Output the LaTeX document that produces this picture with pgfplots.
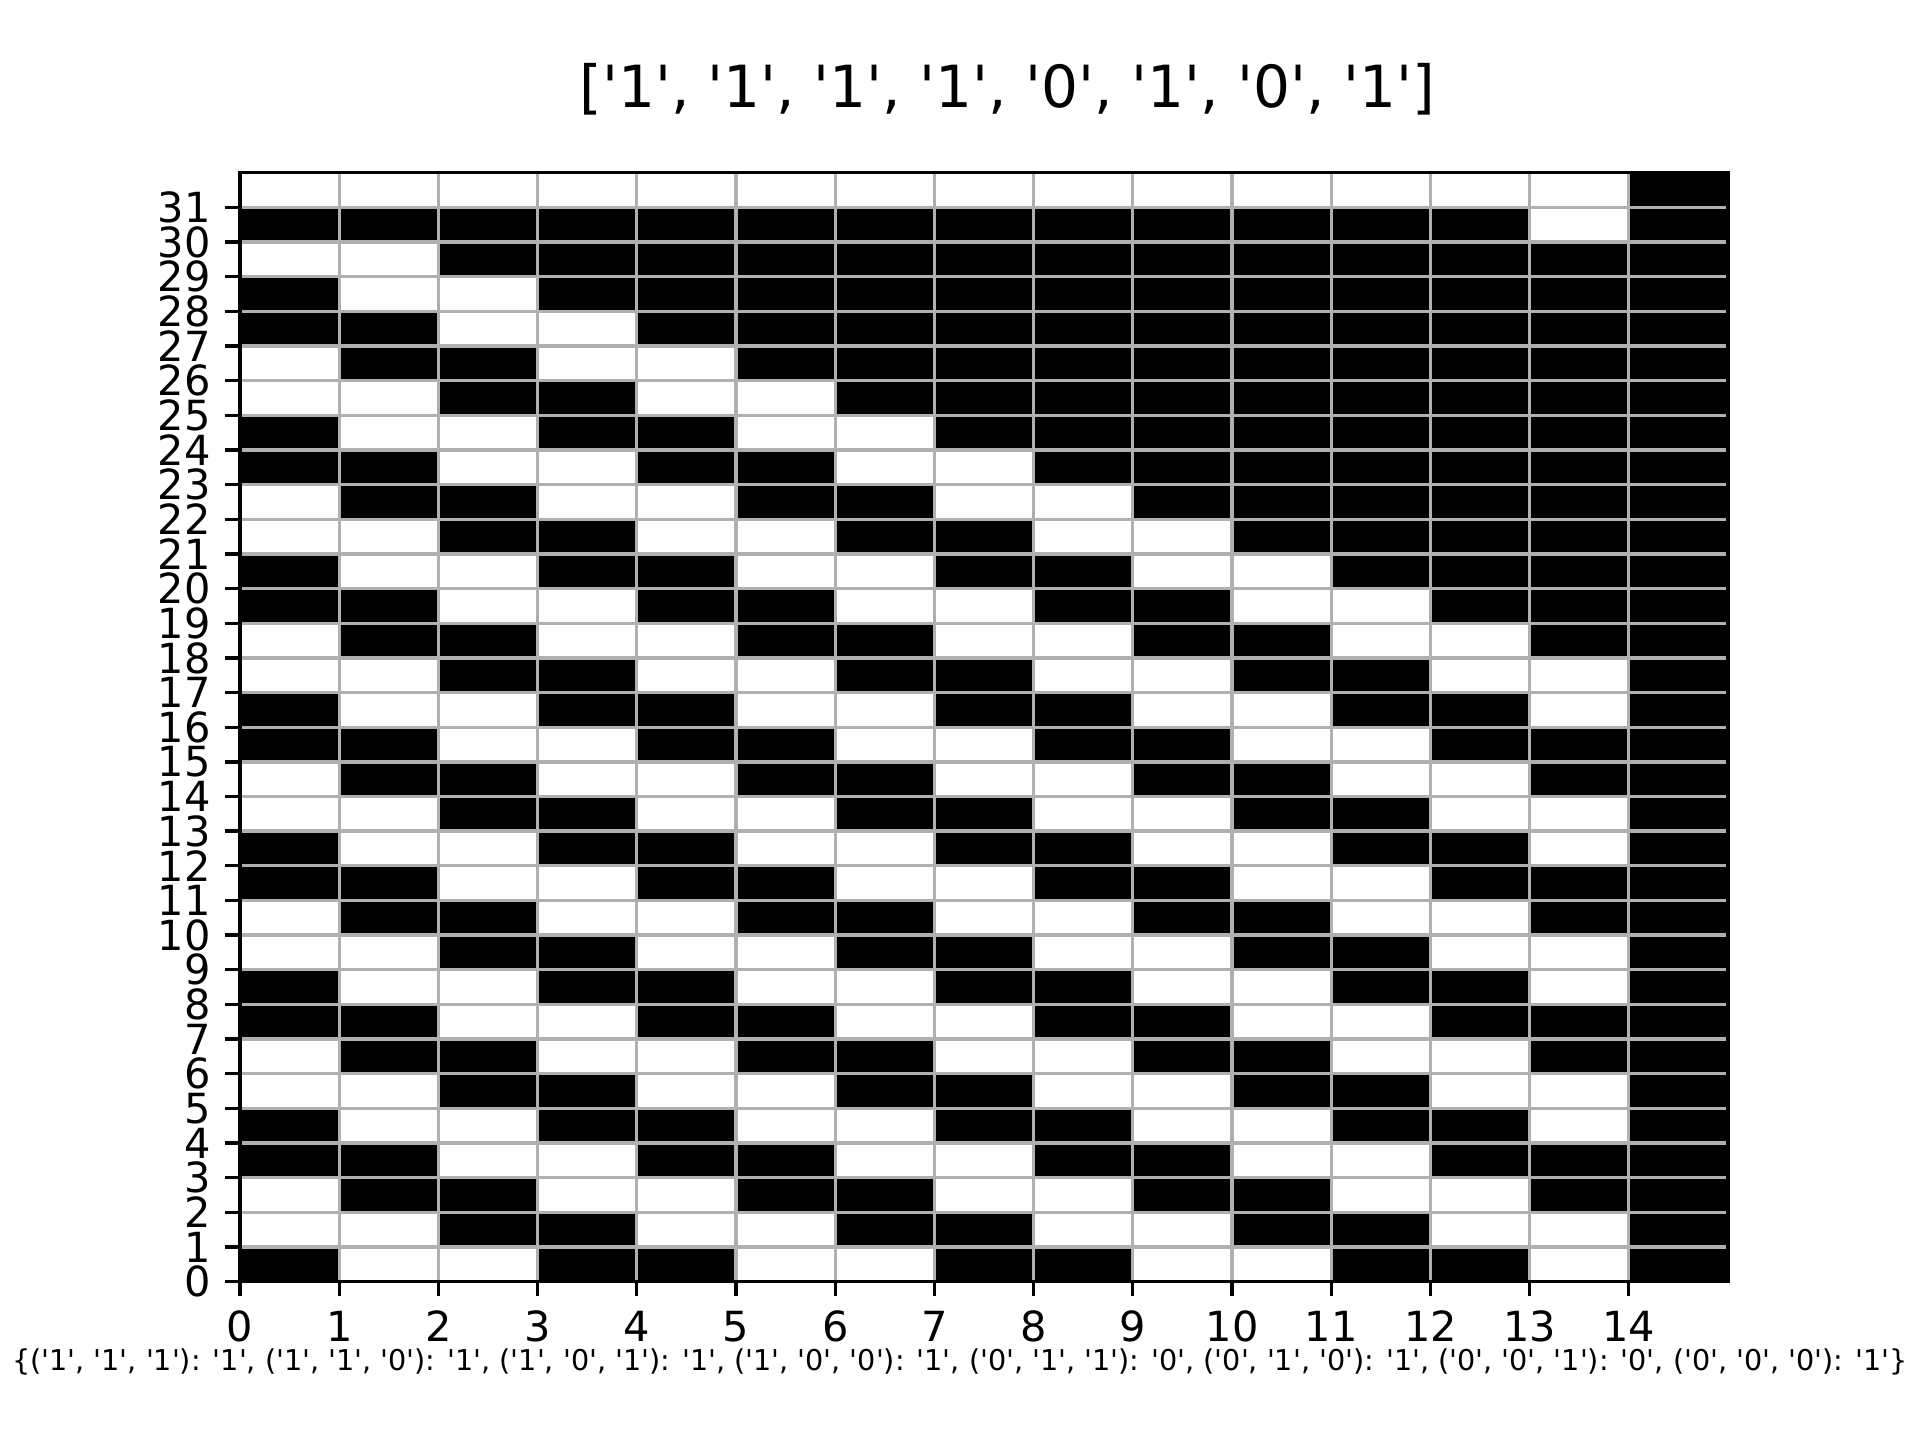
\documentclass[border=0pt]{standalone}
\usepackage{fontspec}
\setmainfont{DejaVu Sans}
\usepackage{pgfplots}
\pgfplotsset{compat=1.18}
\definecolor{gridgray}{HTML}{B0B0B0}
\newcommand\q{\textquotesingle}
\begin{document}
\begin{tikzpicture}
\path[use as bounding box] (0,0) rectangle (6.4in,4.8in);
\begin{axis}[
  at={(0.8in,0.528in)}, anchor=south west,
  scale only axis, width=4.96in, height=3.696in,
  xmin=0, xmax=15, ymin=0, ymax=32,
  xtick={0,...,14}, ytick={0,...,31},
  grid=major, major grid style={gridgray, line width=0.8pt},
  axis line style={line width=0.8pt},
  tick style={black, line width=0.8pt},
  tick align=outside, major tick length=3.5pt,
  xtick pos=bottom, ytick pos=left,
  axis on top,
  colormap={bw}{color=(white) color=(black)},
  point meta min=0, point meta max=1,
  /pgf/number format/assume math mode=true,
  ticklabel style={font=\fontsize{10}{12}\selectfont},
]
\addplot[matrix plot*, mesh/cols=15, point meta=explicit] coordinates {
(0.5,0.5)[1] (1.5,0.5)[0] (2.5,0.5)[0] (3.5,0.5)[1] (4.5,0.5)[1] (5.5,0.5)[0] (6.5,0.5)[0] (7.5,0.5)[1] (8.5,0.5)[1] (9.5,0.5)[0] (10.5,0.5)[0] (11.5,0.5)[1] (12.5,0.5)[1] (13.5,0.5)[0] (14.5,0.5)[1]
(0.5,1.5)[0] (1.5,1.5)[0] (2.5,1.5)[1] (3.5,1.5)[1] (4.5,1.5)[0] (5.5,1.5)[0] (6.5,1.5)[1] (7.5,1.5)[1] (8.5,1.5)[0] (9.5,1.5)[0] (10.5,1.5)[1] (11.5,1.5)[1] (12.5,1.5)[0] (13.5,1.5)[0] (14.5,1.5)[1]
(0.5,2.5)[0] (1.5,2.5)[1] (2.5,2.5)[1] (3.5,2.5)[0] (4.5,2.5)[0] (5.5,2.5)[1] (6.5,2.5)[1] (7.5,2.5)[0] (8.5,2.5)[0] (9.5,2.5)[1] (10.5,2.5)[1] (11.5,2.5)[0] (12.5,2.5)[0] (13.5,2.5)[1] (14.5,2.5)[1]
(0.5,3.5)[1] (1.5,3.5)[1] (2.5,3.5)[0] (3.5,3.5)[0] (4.5,3.5)[1] (5.5,3.5)[1] (6.5,3.5)[0] (7.5,3.5)[0] (8.5,3.5)[1] (9.5,3.5)[1] (10.5,3.5)[0] (11.5,3.5)[0] (12.5,3.5)[1] (13.5,3.5)[1] (14.5,3.5)[1]
(0.5,4.5)[1] (1.5,4.5)[0] (2.5,4.5)[0] (3.5,4.5)[1] (4.5,4.5)[1] (5.5,4.5)[0] (6.5,4.5)[0] (7.5,4.5)[1] (8.5,4.5)[1] (9.5,4.5)[0] (10.5,4.5)[0] (11.5,4.5)[1] (12.5,4.5)[1] (13.5,4.5)[0] (14.5,4.5)[1]
(0.5,5.5)[0] (1.5,5.5)[0] (2.5,5.5)[1] (3.5,5.5)[1] (4.5,5.5)[0] (5.5,5.5)[0] (6.5,5.5)[1] (7.5,5.5)[1] (8.5,5.5)[0] (9.5,5.5)[0] (10.5,5.5)[1] (11.5,5.5)[1] (12.5,5.5)[0] (13.5,5.5)[0] (14.5,5.5)[1]
(0.5,6.5)[0] (1.5,6.5)[1] (2.5,6.5)[1] (3.5,6.5)[0] (4.5,6.5)[0] (5.5,6.5)[1] (6.5,6.5)[1] (7.5,6.5)[0] (8.5,6.5)[0] (9.5,6.5)[1] (10.5,6.5)[1] (11.5,6.5)[0] (12.5,6.5)[0] (13.5,6.5)[1] (14.5,6.5)[1]
(0.5,7.5)[1] (1.5,7.5)[1] (2.5,7.5)[0] (3.5,7.5)[0] (4.5,7.5)[1] (5.5,7.5)[1] (6.5,7.5)[0] (7.5,7.5)[0] (8.5,7.5)[1] (9.5,7.5)[1] (10.5,7.5)[0] (11.5,7.5)[0] (12.5,7.5)[1] (13.5,7.5)[1] (14.5,7.5)[1]
(0.5,8.5)[1] (1.5,8.5)[0] (2.5,8.5)[0] (3.5,8.5)[1] (4.5,8.5)[1] (5.5,8.5)[0] (6.5,8.5)[0] (7.5,8.5)[1] (8.5,8.5)[1] (9.5,8.5)[0] (10.5,8.5)[0] (11.5,8.5)[1] (12.5,8.5)[1] (13.5,8.5)[0] (14.5,8.5)[1]
(0.5,9.5)[0] (1.5,9.5)[0] (2.5,9.5)[1] (3.5,9.5)[1] (4.5,9.5)[0] (5.5,9.5)[0] (6.5,9.5)[1] (7.5,9.5)[1] (8.5,9.5)[0] (9.5,9.5)[0] (10.5,9.5)[1] (11.5,9.5)[1] (12.5,9.5)[0] (13.5,9.5)[0] (14.5,9.5)[1]
(0.5,10.5)[0] (1.5,10.5)[1] (2.5,10.5)[1] (3.5,10.5)[0] (4.5,10.5)[0] (5.5,10.5)[1] (6.5,10.5)[1] (7.5,10.5)[0] (8.5,10.5)[0] (9.5,10.5)[1] (10.5,10.5)[1] (11.5,10.5)[0] (12.5,10.5)[0] (13.5,10.5)[1] (14.5,10.5)[1]
(0.5,11.5)[1] (1.5,11.5)[1] (2.5,11.5)[0] (3.5,11.5)[0] (4.5,11.5)[1] (5.5,11.5)[1] (6.5,11.5)[0] (7.5,11.5)[0] (8.5,11.5)[1] (9.5,11.5)[1] (10.5,11.5)[0] (11.5,11.5)[0] (12.5,11.5)[1] (13.5,11.5)[1] (14.5,11.5)[1]
(0.5,12.5)[1] (1.5,12.5)[0] (2.5,12.5)[0] (3.5,12.5)[1] (4.5,12.5)[1] (5.5,12.5)[0] (6.5,12.5)[0] (7.5,12.5)[1] (8.5,12.5)[1] (9.5,12.5)[0] (10.5,12.5)[0] (11.5,12.5)[1] (12.5,12.5)[1] (13.5,12.5)[0] (14.5,12.5)[1]
(0.5,13.5)[0] (1.5,13.5)[0] (2.5,13.5)[1] (3.5,13.5)[1] (4.5,13.5)[0] (5.5,13.5)[0] (6.5,13.5)[1] (7.5,13.5)[1] (8.5,13.5)[0] (9.5,13.5)[0] (10.5,13.5)[1] (11.5,13.5)[1] (12.5,13.5)[0] (13.5,13.5)[0] (14.5,13.5)[1]
(0.5,14.5)[0] (1.5,14.5)[1] (2.5,14.5)[1] (3.5,14.5)[0] (4.5,14.5)[0] (5.5,14.5)[1] (6.5,14.5)[1] (7.5,14.5)[0] (8.5,14.5)[0] (9.5,14.5)[1] (10.5,14.5)[1] (11.5,14.5)[0] (12.5,14.5)[0] (13.5,14.5)[1] (14.5,14.5)[1]
(0.5,15.5)[1] (1.5,15.5)[1] (2.5,15.5)[0] (3.5,15.5)[0] (4.5,15.5)[1] (5.5,15.5)[1] (6.5,15.5)[0] (7.5,15.5)[0] (8.5,15.5)[1] (9.5,15.5)[1] (10.5,15.5)[0] (11.5,15.5)[0] (12.5,15.5)[1] (13.5,15.5)[1] (14.5,15.5)[1]
(0.5,16.5)[1] (1.5,16.5)[0] (2.5,16.5)[0] (3.5,16.5)[1] (4.5,16.5)[1] (5.5,16.5)[0] (6.5,16.5)[0] (7.5,16.5)[1] (8.5,16.5)[1] (9.5,16.5)[0] (10.5,16.5)[0] (11.5,16.5)[1] (12.5,16.5)[1] (13.5,16.5)[0] (14.5,16.5)[1]
(0.5,17.5)[0] (1.5,17.5)[0] (2.5,17.5)[1] (3.5,17.5)[1] (4.5,17.5)[0] (5.5,17.5)[0] (6.5,17.5)[1] (7.5,17.5)[1] (8.5,17.5)[0] (9.5,17.5)[0] (10.5,17.5)[1] (11.5,17.5)[1] (12.5,17.5)[0] (13.5,17.5)[0] (14.5,17.5)[1]
(0.5,18.5)[0] (1.5,18.5)[1] (2.5,18.5)[1] (3.5,18.5)[0] (4.5,18.5)[0] (5.5,18.5)[1] (6.5,18.5)[1] (7.5,18.5)[0] (8.5,18.5)[0] (9.5,18.5)[1] (10.5,18.5)[1] (11.5,18.5)[0] (12.5,18.5)[0] (13.5,18.5)[1] (14.5,18.5)[1]
(0.5,19.5)[1] (1.5,19.5)[1] (2.5,19.5)[0] (3.5,19.5)[0] (4.5,19.5)[1] (5.5,19.5)[1] (6.5,19.5)[0] (7.5,19.5)[0] (8.5,19.5)[1] (9.5,19.5)[1] (10.5,19.5)[0] (11.5,19.5)[0] (12.5,19.5)[1] (13.5,19.5)[1] (14.5,19.5)[1]
(0.5,20.5)[1] (1.5,20.5)[0] (2.5,20.5)[0] (3.5,20.5)[1] (4.5,20.5)[1] (5.5,20.5)[0] (6.5,20.5)[0] (7.5,20.5)[1] (8.5,20.5)[1] (9.5,20.5)[0] (10.5,20.5)[0] (11.5,20.5)[1] (12.5,20.5)[1] (13.5,20.5)[1] (14.5,20.5)[1]
(0.5,21.5)[0] (1.5,21.5)[0] (2.5,21.5)[1] (3.5,21.5)[1] (4.5,21.5)[0] (5.5,21.5)[0] (6.5,21.5)[1] (7.5,21.5)[1] (8.5,21.5)[0] (9.5,21.5)[0] (10.5,21.5)[1] (11.5,21.5)[1] (12.5,21.5)[1] (13.5,21.5)[1] (14.5,21.5)[1]
(0.5,22.5)[0] (1.5,22.5)[1] (2.5,22.5)[1] (3.5,22.5)[0] (4.5,22.5)[0] (5.5,22.5)[1] (6.5,22.5)[1] (7.5,22.5)[0] (8.5,22.5)[0] (9.5,22.5)[1] (10.5,22.5)[1] (11.5,22.5)[1] (12.5,22.5)[1] (13.5,22.5)[1] (14.5,22.5)[1]
(0.5,23.5)[1] (1.5,23.5)[1] (2.5,23.5)[0] (3.5,23.5)[0] (4.5,23.5)[1] (5.5,23.5)[1] (6.5,23.5)[0] (7.5,23.5)[0] (8.5,23.5)[1] (9.5,23.5)[1] (10.5,23.5)[1] (11.5,23.5)[1] (12.5,23.5)[1] (13.5,23.5)[1] (14.5,23.5)[1]
(0.5,24.5)[1] (1.5,24.5)[0] (2.5,24.5)[0] (3.5,24.5)[1] (4.5,24.5)[1] (5.5,24.5)[0] (6.5,24.5)[0] (7.5,24.5)[1] (8.5,24.5)[1] (9.5,24.5)[1] (10.5,24.5)[1] (11.5,24.5)[1] (12.5,24.5)[1] (13.5,24.5)[1] (14.5,24.5)[1]
(0.5,25.5)[0] (1.5,25.5)[0] (2.5,25.5)[1] (3.5,25.5)[1] (4.5,25.5)[0] (5.5,25.5)[0] (6.5,25.5)[1] (7.5,25.5)[1] (8.5,25.5)[1] (9.5,25.5)[1] (10.5,25.5)[1] (11.5,25.5)[1] (12.5,25.5)[1] (13.5,25.5)[1] (14.5,25.5)[1]
(0.5,26.5)[0] (1.5,26.5)[1] (2.5,26.5)[1] (3.5,26.5)[0] (4.5,26.5)[0] (5.5,26.5)[1] (6.5,26.5)[1] (7.5,26.5)[1] (8.5,26.5)[1] (9.5,26.5)[1] (10.5,26.5)[1] (11.5,26.5)[1] (12.5,26.5)[1] (13.5,26.5)[1] (14.5,26.5)[1]
(0.5,27.5)[1] (1.5,27.5)[1] (2.5,27.5)[0] (3.5,27.5)[0] (4.5,27.5)[1] (5.5,27.5)[1] (6.5,27.5)[1] (7.5,27.5)[1] (8.5,27.5)[1] (9.5,27.5)[1] (10.5,27.5)[1] (11.5,27.5)[1] (12.5,27.5)[1] (13.5,27.5)[1] (14.5,27.5)[1]
(0.5,28.5)[1] (1.5,28.5)[0] (2.5,28.5)[0] (3.5,28.5)[1] (4.5,28.5)[1] (5.5,28.5)[1] (6.5,28.5)[1] (7.5,28.5)[1] (8.5,28.5)[1] (9.5,28.5)[1] (10.5,28.5)[1] (11.5,28.5)[1] (12.5,28.5)[1] (13.5,28.5)[1] (14.5,28.5)[1]
(0.5,29.5)[0] (1.5,29.5)[0] (2.5,29.5)[1] (3.5,29.5)[1] (4.5,29.5)[1] (5.5,29.5)[1] (6.5,29.5)[1] (7.5,29.5)[1] (8.5,29.5)[1] (9.5,29.5)[1] (10.5,29.5)[1] (11.5,29.5)[1] (12.5,29.5)[1] (13.5,29.5)[1] (14.5,29.5)[1]
(0.5,30.5)[1] (1.5,30.5)[1] (2.5,30.5)[1] (3.5,30.5)[1] (4.5,30.5)[1] (5.5,30.5)[1] (6.5,30.5)[1] (7.5,30.5)[1] (8.5,30.5)[1] (9.5,30.5)[1] (10.5,30.5)[1] (11.5,30.5)[1] (12.5,30.5)[1] (13.5,30.5)[0] (14.5,30.5)[1]
(0.5,31.5)[0] (1.5,31.5)[0] (2.5,31.5)[0] (3.5,31.5)[0] (4.5,31.5)[0] (5.5,31.5)[0] (6.5,31.5)[0] (7.5,31.5)[0] (8.5,31.5)[0] (9.5,31.5)[0] (10.5,31.5)[0] (11.5,31.5)[0] (12.5,31.5)[0] (13.5,31.5)[0] (14.5,31.5)[1]
};
\end{axis}
\node[anchor=base, font=\fontsize{14}{16.8}\selectfont, inner sep=0pt] at (3.357in,4.44in)
  {[\q1\q, \q1\q, \q1\q, \q1\q, \q0\q, \q1\q, \q0\q, \q1\q]};
\node[anchor=base, font=\fontsize{6.9}{8.3}\selectfont, inner sep=0pt] at (3.2in,0.232in)
  {\{(\q1\q, \q1\q, \q1\q): \q1\q, (\q1\q, \q1\q, \q0\q): \q1\q, (\q1\q, \q0\q, \q1\q): \q1\q, (\q1\q, \q0\q, \q0\q): \q1\q, (\q0\q, \q1\q, \q1\q): \q0\q, (\q0\q, \q1\q, \q0\q): \q1\q, (\q0\q, \q0\q, \q1\q): \q0\q, (\q0\q, \q0\q, \q0\q): \q1\q\}};
\end{tikzpicture}
\end{document}
